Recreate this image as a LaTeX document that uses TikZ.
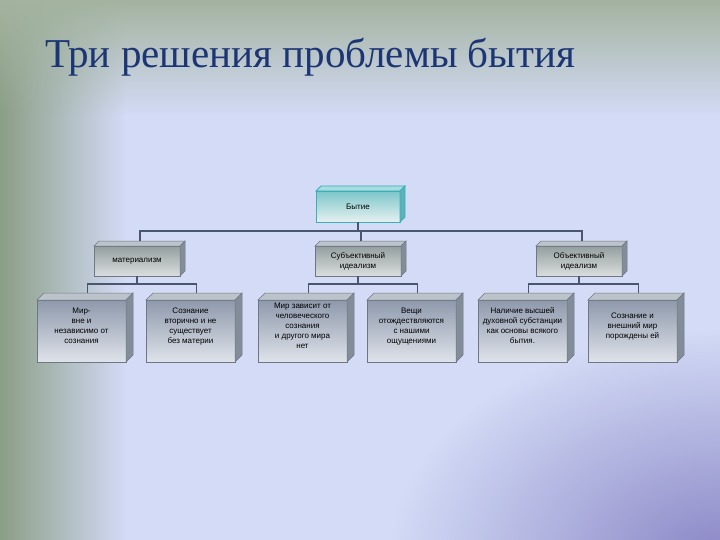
\documentclass[tikz,border=0pt]{standalone}
\usepackage{fontspec}
\setmainfont{Liberation Sans}
\newfontfamily\titlefont{Liberation Serif}
\usetikzlibrary{calc,fadings}
\tikzfading[name=radfade, inner color=transparent!0, outer color=transparent!100]
\definecolor{bgbase}{HTML}{D3DBF6}
\definecolor{bgleft}{HTML}{8B9E86}
\definecolor{bgtop}{HTML}{A3B39F}
\definecolor{bgpurple}{HTML}{8A86C6}
\definecolor{titleblue}{HTML}{1C3675}
\definecolor{connc}{HTML}{4A5670}
\definecolor{tealtop}{HTML}{7CC6CA}
\definecolor{tealbot}{HTML}{E6F0F0}
\definecolor{tealline}{HTML}{3AAFB8}
\definecolor{tealface}{HTML}{A9DCDE}
\definecolor{tealside}{HTML}{5DB2BA}
\definecolor{gtop}{HTML}{949F9F}
\definecolor{gbot}{HTML}{DADDDD}
\definecolor{btop}{HTML}{8E99AC}
\definecolor{bbot}{HTML}{DFE3EA}
\definecolor{boxline}{HTML}{6E7782}
\definecolor{topface}{HTML}{BCC3CA}
\definecolor{sideface}{HTML}{838D99}
\tikzset{
  every node/.style={outer sep=0pt, inner sep=1pt},
  txt/.style={font=\fontsize{8}{10}\selectfont, align=center, text=black},
  lvone/.style={txt, rectangle, minimum width=84pt, minimum height=31pt, top color=tealtop, bottom color=tealbot, draw=tealline, line width=0.8pt},
  lvtwo/.style={txt, rectangle, minimum width=86pt, minimum height=30pt, top color=gtop, bottom color=gbot, draw=boxline, line width=0.5pt},
  lvthree/.style={txt, rectangle, minimum width=89pt, minimum height=62pt, top color=btop, bottom color=bbot, draw=boxline, line width=0.5pt},
  conn/.style={draw=connc, line width=1.8pt},
  facetop/.style={fill=topface, draw=boxline, line width=0.5pt},
  faceside/.style={fill=sideface, draw=boxline, line width=0.5pt},
  tfacetop/.style={fill=tealface, draw=tealline, line width=0.8pt},
  tfaceside/.style={fill=tealside, draw=tealline, line width=0.8pt},
}
\newcommand\boxfaces[4]{%
  \path[#3] (#1.north west) -- ++(#2,-#2) -- ($(#1.north east)+(#2,-#2)$) -- (#1.north east) -- cycle;
  \path[#4] (#1.north east) -- ++(#2,-#2) -- ($(#1.south east)+(#2,-#2)$) -- (#1.south east) -- cycle;
}
\begin{document}
\begin{tikzpicture}[x=1pt,y=-1pt]
\useasboundingbox (0,0) rectangle (720,540);
% background
\fill[bgbase] (0,0) rectangle (720,540);
\fill[bgleft, path fading=east] (0,0) rectangle (125,540);
\fill[bgtop, path fading=south] (0,0) rectangle (720,115);
\fill[bgpurple, path fading=radfade] (720,560) ellipse (330 and 230);
% title
\node[anchor=base west, inner sep=0, font=\titlefont\fontsize{41}{48}\selectfont, text=titleblue] (title) at (45,68) {Три решения проблемы бытия};
% boxes
\node[lvone] (byt) at (358,206.5) {Бытие};
\node[lvtwo] (mat) at (137,261) {материализм};
\node[lvtwo] (subj) at (358,261) {Субъективный\\идеализм};
\node[lvtwo] (obj) at (579,261) {Объективный\\идеализм};
\node[lvthree] (c1) at (81.5,331) {Мир-\\вне и\\независимо от\\сознания\\[1pt]};
\node[lvthree] (c2) at (190.5,331) {Сознание\\вторично и не\\существует\\без материи\\[1pt]};
\node[lvthree] (c3) at (302.5,331) {Мир зависит от\\человеческого\\сознания\\и другого мира\\нет\\[1pt]};
\node[lvthree] (c4) at (411.5,331) {Вещи\\отождествляются\\с нашими\\ощущениями\\[1pt]};
\node[lvthree] (c5) at (522.5,331) {Наличие высшей\\духовной субстанции\\как основы всякого\\бытия.\\[1pt]};
\node[lvthree] (c6) at (632.5,331) {Сознание и\\внешний мир\\порождены ей\\[1pt]};
% faces
\boxfaces{byt}{5}{tfacetop}{tfaceside}
\foreach \n in {mat,subj,obj}{\boxfaces{\n}{5}{facetop}{faceside}}
\foreach \n in {c1,c2,c3,c4,c5,c6}{\boxfaces{\n}{7}{facetop}{faceside}}
% connector end points on top faces
\coordinate (matT) at ($(mat.north)+(3,-5)$);
\coordinate (subjT) at ($(subj.north)+(3,-5)$);
\coordinate (objT) at ($(obj.north)+(3,-5)$);
\foreach \n in {c1,c2,c3,c4,c5,c6}{\coordinate (\n T) at ($(\n.north)+(6,-7)$);}
% connectors level 1 -> 2
\draw[conn] (byt.south) -- ($(byt.south)+(0,9)$) coordinate (bus1);
\draw[conn] (matT) |- (bus1) -| (objT);
\draw[conn] (subjT) -- (subjT |- bus1);
% connectors level 2 -> 3
\draw[conn] (mat.south) -- ($(mat.south)+(0,8)$) coordinate (busA);
\draw[conn] (c1T) |- (busA) -| (c2T);
\draw[conn] (subj.south) -- ($(subj.south)+(0,8)$) coordinate (busB);
\draw[conn] (c3T) |- (busB) -| (c4T);
\draw[conn] (obj.south) -- ($(obj.south)+(0,8)$) coordinate (busC);
\draw[conn] (c5T) |- (busC) -| (c6T);
\end{tikzpicture}
\end{document}
